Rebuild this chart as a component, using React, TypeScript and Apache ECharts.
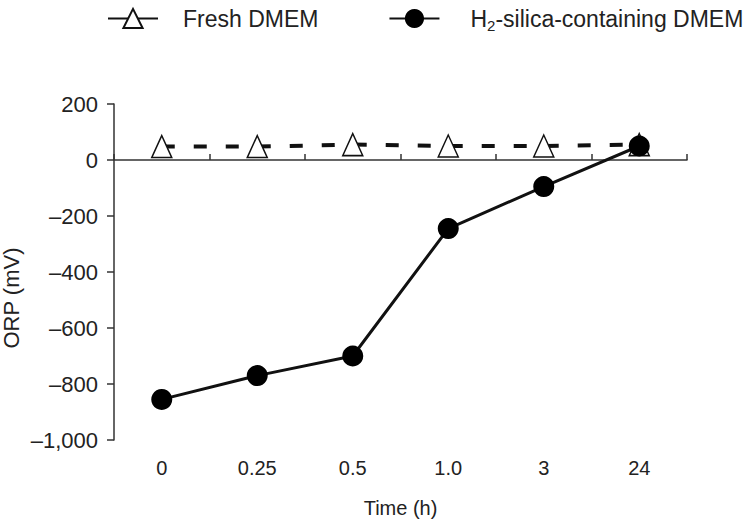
import React, { useEffect, useRef } from "react";
import * as echarts from "echarts";

const categories = ["0", "0.25", "0.5", "1.0", "3", "24"];
const freshValues = [48, 48, 55, 50, 50, 55];
const h2Values = [-855, -770, -700, -245, -95, 50];
const yTicks = { min: -1000, max: 200, interval: 200 };

const FONT = "'Liberation Sans', Arial, sans-serif";

export default function App() {
  const ref = useRef<HTMLDivElement>(null);
  useEffect(() => {
    if (!ref.current) return;
    const chart = echarts.init(ref.current, undefined, { renderer: "svg" });
    chart.setOption({
      animation: false,
      textStyle: { fontFamily: FONT },
      legend: {
        top: 2,
        left: 102,
        itemWidth: 50,
        itemHeight: 24,
        itemGap: 70,
        textStyle: {
          fontSize: 23,
          color: "#222",
          fontFamily: FONT,
          rich: {
            sub: { fontSize: 15, color: "#222", verticalAlign: "bottom", padding: [14, 0, 0, 0], fontFamily: FONT },
          },
        },
        formatter: (name: string) =>
          name.startsWith("H2") ? "H{sub|2}" + name.slice(2) : name,
        data: [
          { name: "Fresh DMEM", lineStyle: { type: "solid" }, textStyle: { padding: [0, 0, 0, 20] } },
          { name: "H2-silica-containing DMEM", textStyle: { padding: [0, 0, 0, 26] } },
        ],
      },
      grid: { left: 114, right: 66, top: 104, bottom: 82, outerBoundsMode: "none" },
      xAxis: [
        {
          type: "category",
          data: categories,
          position: "bottom",
          axisLine: { show: false, onZero: false },
          axisTick: { show: false },
          axisLabel: { fontSize: 20, color: "#222", margin: 18, fontFamily: FONT },
          name: "Time (h)",
          nameLocation: "middle",
          nameGap: 58,
          nameMoveOverlap: false,
          nameTextStyle: { fontSize: 20, color: "#222", fontFamily: FONT },
        },
        {
          type: "category",
          data: categories,
          position: "top",
          axisLine: { show: true, onZero: true, lineStyle: { color: "#333", width: 1.5 } },
          axisTick: { show: true, inside: false, length: 6, lineStyle: { color: "#333", width: 1.5 } },
          axisLabel: { show: false },
        },
      ],
      yAxis: {
        type: "value",
        min: yTicks.min,
        max: yTicks.max,
        interval: yTicks.interval,
        axisLine: { show: true, lineStyle: { color: "#333", width: 1.5 } },
        axisTick: { show: true, length: 7, lineStyle: { color: "#333", width: 1.5 } },
        splitLine: { show: false },
        axisLabel: {
          fontSize: 22,
          color: "#222",
          margin: 16,
          fontFamily: FONT,
          formatter: (v: number) => {
            const s = Math.abs(v).toLocaleString("en-US");
            return v < 0 ? "\u2013" + s : s;
          },
        },
        name: "ORP (mV)",
        nameLocation: "middle",
        nameGap: 92,
        nameMoveOverlap: false,
        nameTextStyle: { fontSize: 22, color: "#222", fontFamily: FONT, padding: [0, 52, 0, 0] },
      },
      series: [
        {
          name: "Fresh DMEM",
          type: "line",
          xAxisIndex: 0,
          data: freshValues,
          symbol: "triangle",
          symbolSize: [20, 22],
          itemStyle: { color: "#fff", borderColor: "#111", borderWidth: 1.5 },
          lineStyle: { color: "#111", width: 4, type: [13, 19] },
          z: 2,
        },
        {
          name: "H2-silica-containing DMEM",
          type: "line",
          xAxisIndex: 0,
          data: h2Values,
          symbol: "circle",
          symbolSize: 21,
          itemStyle: { color: "#000" },
          lineStyle: { color: "#111", width: 3 },
          z: 3,
        },
      ],
    });
    return () => chart.dispose();
  }, []);
  return <div ref={ref} style={{ width: 753, height: 522, position: "absolute", left: 0, top: 0 }} />;
}
